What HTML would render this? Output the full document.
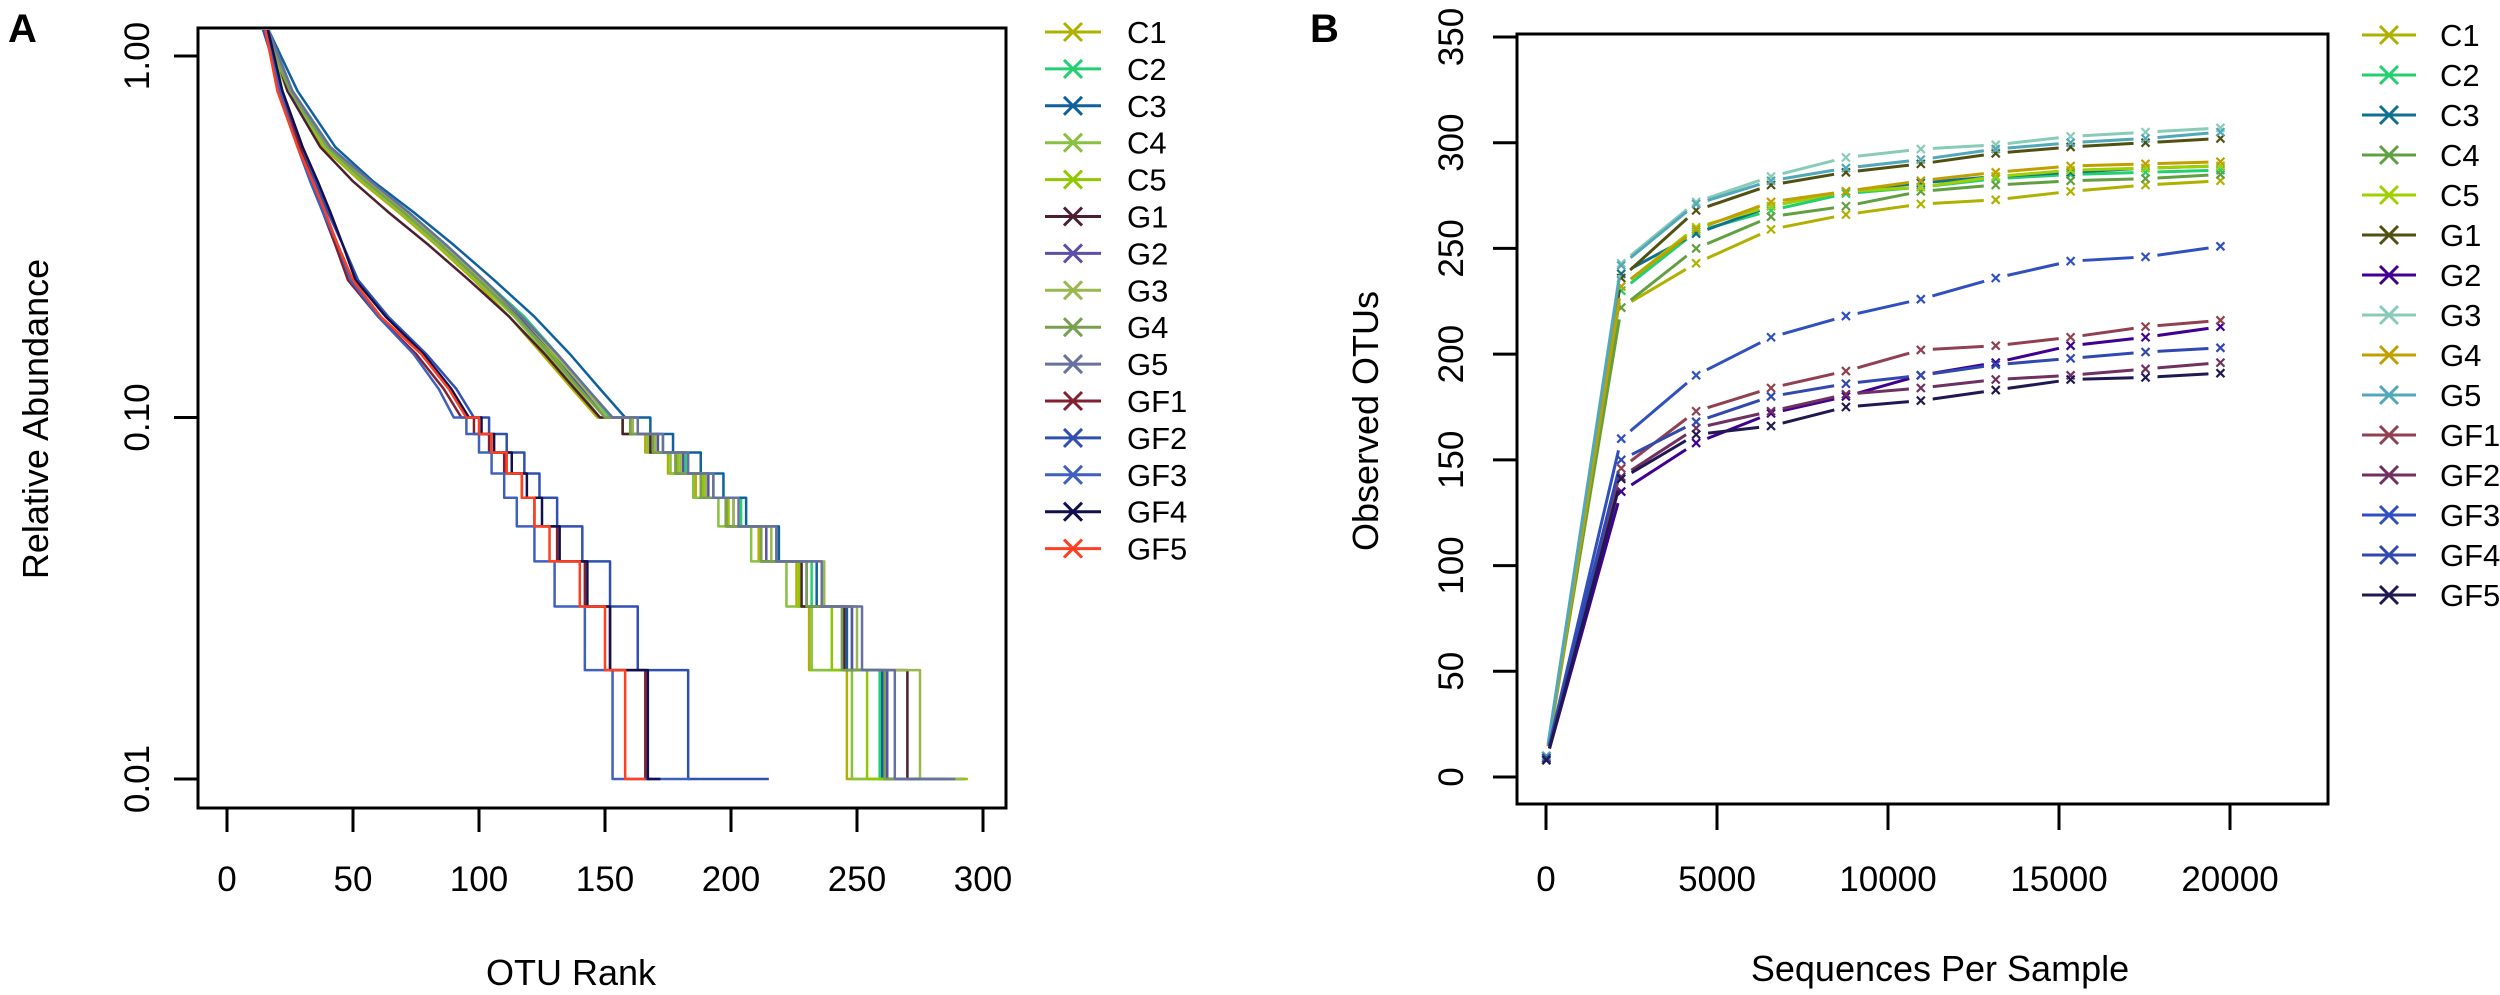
<!DOCTYPE html>
<html><head><meta charset="utf-8">
<style>
html,body{margin:0;padding:0;background:#fff;}
svg{display:block;font-family:"Liberation Sans",Arial,sans-serif;}
</style></head>
<body>
<svg id="fig" width="2500" height="995" viewBox="0 0 2500 995" xmlns="http://www.w3.org/2000/svg">
<text x="8" y="42" font-size="40" font-weight="bold">A</text>
<text x="1310" y="42" font-size="40" font-weight="bold">B</text>
<rect x="198" y="28" width="808" height="780" fill="none" stroke="#000" stroke-width="3"/>
<rect x="1517" y="34" width="811" height="770" fill="none" stroke="#000" stroke-width="3"/>
<g id="aAxes"></g>
<g id="aSeries"></g>
<g id="aLegend"></g>
<g id="bAxes"></g>
<g id="bSeries"></g>
<g id="bLegend"></g>
<text x="571" y="985" font-size="36" text-anchor="middle">OTU Rank</text>
<text transform="translate(48,419) rotate(-90)" font-size="36" text-anchor="middle">Relative Abundance</text>
<text x="1940" y="981" font-size="36" text-anchor="middle">Sequences Per Sample</text>
<text transform="translate(1378,421) rotate(-90)" font-size="36" text-anchor="middle">Observed OTUs</text>
</svg>
<script>
// ---------- Panel A data ----------
const seriesNames = ["C1","C2","C3","C4","C5","G1","G2","G3","G4","G5","GF1","GF2","GF3","GF4","GF5"];
const aColors = ["#b0b000","#22d070","#10609e","#88c040","#90c800","#4a2030","#5a50a8","#99b850","#78a050","#6870a0","#802030","#3050b0","#4060c0","#101050","#ff4020"];
const aTicksX = [0,50,100,150,200,250,300];
const aTicksY = [1,0.1,0.01];
const aTickLabelsY = ["1.00","0.10","0.01"];
const abundLevels = [1.2,0.8,0.56,0.45,0.37,0.3,0.24,0.19,0.15,0.12,0.1,0.09,0.08,0.07,0.06,0.05,0.04,0.03,0.02,0.01];
const rC1  = [14,24,38,53,68,83,98,112,125,137,147,157,166,175,186,198,211,226,231,246];
const rC2  = [15,26,41,56,72,87,102,118,131,143,152,163,173,182,193,204,218,232,248,259];
const rC3  = [16,28,43,58,74,90,106,122,136,148,158,168,177,188,197,206,219,234,246,260];
const rC4  = [14,24,39,54,69,84,99,114,127,139,148,157,167,176,185,195,208,222,232,248];
const rC5  = [15,25,40,55,70,86,101,116,129,141,150,160,170,179,189,199,212,227,240,254];
const rG1  = [16,24,37,50,64,80,96,112,126,138,148,157,168,178,188,198,212,228,245,270];
const rG2  = [15,25,40,55,71,86,101,116,130,141,151,161,171,181,191,201,214,230,248,262];
const rG3  = [14,25,40,56,71,86,101,117,130,142,151,161,170,180,190,201,216,237,250,275];
const rG4  = [15,25,40,55,70,85,100,115,128,140,150,160,169,178,188,198,212,230,244,261];
const rG5  = [16,26,41,57,72,87,102,117,131,143,153,163,173,183,193,203,218,236,252,265];
const rGF1 = [15,21,29,34,38,43,48,60,75,86,93,98,104,110,117,122,131,142,152,166];
const rGF2 = [14,22,30,35,40,46,52,64,79,91,98,104,111,118,124,131,141,152,163,183];
const rGF3 = [15,21,28,33,38,44,49,60,74,84,90,95,100,105,110,115,122,130,142,153];
const rGF4 = [16,22,30,36,41,46,51,63,78,89,96,101,106,113,119,125,132,143,152,167];
const rGF5 = [15,20,28,34,39,44,50,61,77,88,95,100,105,111,117,122,128,140,150,158];
const aTailEnd = [290,286,293,289,294,286,284,292,288,289,168,215,184,172,166];
const aRanks = [rC1,rC2,rC3,rC4,rC5,rG1,rG2,rG3,rG4,rG5,rGF1,rGF2,rGF3,rGF4,rGF5];

// ---------- Panel B data ----------
const bColors = ["#b0b000","#22d070","#107090","#60a040","#a0d000","#505010","#400090","#88ccb8","#c0a000","#50a8b8","#904050","#703060","#3050c0","#3048b0","#201850"];
const bDepths = [10,2200,4390,6580,8770,10960,13150,15340,17530,19720];
const bTicksX = [0,5000,10000,15000,20000];
const bTicksY = [0,50,100,150,200,250,300,350];
const vC1  = [9,222,243,259,266,271,273,277,280,282];
const vC2  = [10,230,258,268,276,279,283,285,286,287];
const vC3  = [9,238,257,270,277,281,284,286,288,289];
const vC4  = [10,222,250,265,270,277,280,282,283,285];
const vC5  = [9,232,260,270,277,279,284,287,288,289];
const vG1  = [9,236,268,280,286,290,295,298,300,302];
const vG2  = [8,135,158,172,180,190,196,204,208,213];
const vG3  = [10,243,272,284,293,297,299,303,305,307];
const vG4  = [9,232,259,272,277,282,286,289,290,291];
const vG5  = [10,242,271,282,288,292,297,300,302,305];
const vGF1 = [9,146,173,184,192,202,204,208,213,216];
const vGF2 = [8,142,165,173,181,184,188,190,193,196];
const vGF3 = [9,160,190,208,218,226,236,244,246,251];
const vGF4 = [9,150,168,180,186,190,195,198,201,203];
const vGF5 = [8,141,162,166,175,178,183,188,189,191];
const bValues = [vC1,vC2,vC3,vC4,vC5,vG1,vG2,vG3,vG4,vG5,vGF1,vGF2,vGF3,vGF4,vGF5];

const NS = "http://www.w3.org/2000/svg";
function mk(tag, attrs, parent){const e=document.createElementNS(NS,tag);for(const k in attrs)e.setAttribute(k,attrs[k]);parent.appendChild(e);return e;}

// Panel A axes functions
const ax = r => 227 + (r - 0) * (983 - 227) / 300;
const ay = v => 779 - (Math.log10(v) - Math.log10(0.01)) * (779 - 56) / 2;
const aAxes = document.getElementById('aAxes');
aTicksX.forEach(t=>{
  const l=mk('line',{x1:ax(t),x2:ax(t),y1:808,y2:832,stroke:'#000','stroke-width':3},aAxes);
  
  
  const tx=mk('text',{x:ax(t),y:891,'font-size':35,'text-anchor':'middle'},aAxes);
  tx.textContent=t;
  
  
});
aTicksY.forEach((t,i)=>{
  const l=mk('line',{x1:174,x2:198,y1:ay(t),y2:ay(t),stroke:'#000','stroke-width':3},aAxes);
  
  
  const tx=mk('text',{transform:`translate(149,${ay(t)}) rotate(-90)`,'font-size':35,'text-anchor':'middle'},aAxes);
  tx.textContent=aTickLabelsY[i];
  
  
});
const aSeries=document.getElementById('aSeries');
const cp=mk('clipPath',{id:'clipA'},aSeries);
mk('rect',{x:199,y:30,width:806,height:776},cp);
aRanks.forEach((ranks,s)=>{
  let d=`M${ax(ranks[0])},${ay(abundLevels[0])}`;
  for(let i=1;i<ranks.length;i++){
    if(abundLevels[i]>=0.1){
      // many tiny steps in the upper region: rendered as a smooth descent
      d+=` L${ax(ranks[i])},${ay(abundLevels[i])}`;
    } else {
      d+=` H${ax(ranks[i])} V${ay(abundLevels[i])}`;
    }
  }
  d+=` H${ax(aTailEnd[s])}`;
  const p=mk('path',{d:d,fill:'none',stroke:aColors[s],'stroke-width':2.5,'stroke-linejoin':'round','clip-path':'url(#clipA)'},aSeries);
  
  
});

// Panel B axes functions
const bx = v => 1546 + v * (2230 - 1546) / 20000;
const by = v => 777 - v * (777 - 37) / 350;
const bAxes=document.getElementById('bAxes');
bTicksX.forEach(t=>{
  const l=mk('line',{x1:bx(t),x2:bx(t),y1:804,y2:830,stroke:'#000','stroke-width':3},bAxes);
  
  
  const tx=mk('text',{x:bx(t),y:891,'font-size':35,'text-anchor':'middle'},bAxes);
  tx.textContent=t;
  
  
});
bTicksY.forEach(t=>{
  const l=mk('line',{x1:1493,x2:1517,y1:by(t),y2:by(t),stroke:'#000','stroke-width':3},bAxes);
  
  
  const tx=mk('text',{transform:`translate(1463,${by(t)}) rotate(-90)`,'font-size':35,'text-anchor':'middle'},bAxes);
  tx.textContent=t;
  
  
});
const bSeries=document.getElementById('bSeries');
function cross(g,x,y,r,c,w){
  mk('path',{d:`M${x-r},${y-r}L${x+r},${y+r}M${x-r},${y+r}L${x+r},${y-r}`,stroke:c,'stroke-width':w,fill:'none'},g);
}
bValues.forEach((vals,s)=>{
  const g=mk('g',{},bSeries);
  
  
  for(let i=0;i<vals.length-1;i++){
    const x1=bx(bDepths[i]),y1=by(vals[i]),x2=bx(bDepths[i+1]),y2=by(vals[i+1]);
    const dx=x2-x1,dy=y2-y1,L=Math.hypot(dx,dy),g0=12;
    if(L>2*g0){mk('line',{x1:x1+dx*g0/L,y1:y1+dy*g0/L,x2:x2-dx*g0/L,y2:y2-dy*g0/L,stroke:bColors[s],'stroke-width':3},g);}
  }
  vals.forEach((v,i)=>cross(g,bx(bDepths[i]),by(v),4,bColors[s],2.2));
});

// Legends
function legend(id,x0,y0,step,colors,lineX1,lineX2,textX,fs){
  const lg=document.getElementById(id);
  seriesNames.forEach((n,i)=>{
    const y=y0+i*step;
    const g=mk('g',{},lg);
    
    
    mk('line',{x1:lineX1,x2:lineX2,y1:y,y2:y,stroke:colors[i],'stroke-width':3},g);
    cross(g,(lineX1+lineX2)/2,y,9,colors[i],3);
    const t=mk('text',{x:textX,y:y+11,'font-size':fs},g);
    t.textContent=n;
  });
}
legend('aLegend',1045,32,36.9,aColors,1045,1101,1127,31);
legend('bLegend',2362,35,40,bColors,2362,2416,2440,31);
</script>
</body></html>
